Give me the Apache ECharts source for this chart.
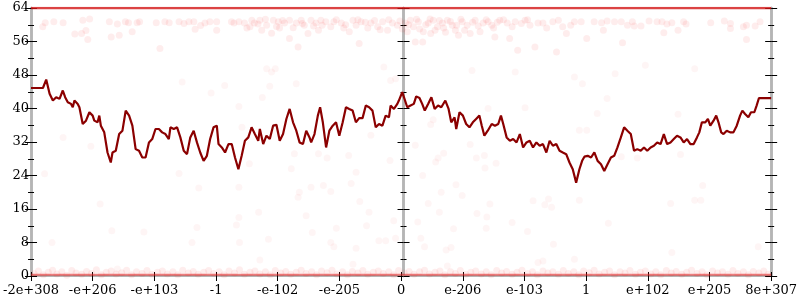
<!DOCTYPE html>
<html><head><meta charset="utf-8">
<script src="https://cdn.jsdelivr.net/npm/echarts@6/dist/echarts.min.js"></script>
<style>html,body{margin:0;padding:0;background:#fff}#c{width:800px;height:300px}</style>
</head><body><div id="c"></div>
<script>
// ---- data ----
const xTickLabels = ['-2e+308','-e+206','-e+103','-1','-e-102','-e-205','0','e-206','e-103','1','e+102','e+205','8e+307'];
const yMin = 0, yMax = 64, yStep = 8;

const lineX = [
 0,0.193,0.246,0.301,0.354,0.408,0.462,0.515,0.553,0.596,0.649,0.677,0.704,0.757,0.784,0.838,0.891,0.946,0.999,1.026,
 1.079,1.107,1.132,1.187,1.240,1.293,1.321,1.374,1.429,1.482,1.535,1.590,1.643,1.696,1.751,1.804,1.857,1.912,1.965,2.018,
 2.073,2.126,2.179,2.234,2.260,2.315,2.368,2.421,2.476,2.529,2.582,2.637,2.690,2.743,2.798,2.851,2.904,2.959,3.012,
 3.040,3.093,3.146,3.201,3.254,3.307,3.362,3.415,3.468,3.523,3.576,3.629,3.684,3.710,3.764,3.817,3.871,3.925,3.979,4.032,
 4.086,4.140,4.193,4.248,4.301,4.354,4.409,4.462,4.515,4.542,4.596,4.650,4.687,4.731,4.784,4.837,4.892,4.945,4.998,5.053,
 5.106,5.159,5.214,5.267,5.320,5.375,5.428,5.481,5.536,5.589,5.642,5.697,5.750,5.803,5.830,5.884,5.939,
 5.964,6.019,6.045,6.100,6.153,6.206,6.245,6.298,6.342,6.384,6.438,6.491,6.544,6.599,6.652,6.717,6.770,6.813,6.867,6.894,
 6.947,7.002,7.055,7.108,7.163,7.216,7.269,7.308,7.350,7.405,7.469,7.522,7.575,7.619,7.656,7.711,7.764,7.817,7.872,7.925,
 7.978,8.033,8.086,8.139,8.194,8.247,8.300,8.355,8.408,8.461,8.516,8.569,8.622,8.677,8.730,8.783,8.838,8.891,8.935,8.972,
 9.025,9.080,9.133,9.186,9.241,9.294,9.347,9.402,9.455,9.508,9.563,9.616,9.669,9.724,9.777,9.830,9.885,9.938,9.991,10.046,
 10.099,10.152,10.207,10.260,10.313,10.368,10.421,10.474,10.529,10.582,10.636,10.690,10.744,10.797,10.835,10.877,10.932,10.974,11.013,11.066,
 11.109,11.146,11.190,11.227,11.280,11.335,11.388,11.442,11.496,11.533,11.577,11.630,11.673,11.727,11.764,11.802,12
];
const lineY = [
 44.9,44.9,46.9,43.5,41.9,42.7,42.3,44.3,42.7,41.5,41.1,40.3,41.9,41.1,40.3,36.3,37.1,39.1,38.3,37.1,
 36.7,38.3,35.9,34.3,29.5,27.1,29.5,29.9,33.9,34.7,39.5,38.3,35.9,30.3,29.9,28.3,28.3,31.9,32.7,35.1,
 35.1,34.3,33.9,32.7,35.5,35.1,35.5,33.1,29.9,29.1,33.1,34.7,31.9,29.5,27.5,28.7,32.7,35.5,35.9,
 31.5,30.7,29.5,31.5,31.5,28.3,25.5,28.7,32.3,33.1,35.5,33.9,32.3,35.1,31.5,33.5,32.7,35.9,36.1,32.3,
 33.9,37.5,39.9,36.7,34.7,31.9,31.5,34.7,33.1,31.9,33.9,38.3,40.3,36.7,30.7,34.7,35.9,36.7,33.5,36.7,
 40.3,39.9,39.5,36.7,37.7,37.7,40.7,40.3,39.5,35.5,36.3,35.9,38.3,37.9,40.7,39.9,41.1,
 41.9,43.9,43.9,40.3,40.7,41.1,42.9,42.5,41.1,39.5,41.1,42.7,39.9,40.7,40.3,41.9,39.9,36.7,37.9,35.1,
 39.1,38.3,36.3,35.5,36.7,37.5,38.3,35.9,33.5,34.7,36.3,35.9,36.3,38.3,36.3,33.1,32.3,32.7,31.9,33.9,
 30.7,31.9,32.3,30.7,31.9,31.1,31.5,29.5,32.3,31.1,31.5,29.9,29.5,29.1,27.1,25.5,22.3,25.5,27.5,28.5,
 28.7,28.3,29.5,27.5,26.7,25.1,26.7,28.3,28.7,30.7,33.1,35.5,34.7,33.9,29.9,30.3,29.9,30.7,29.9,30.7,
 31.1,31.9,31.5,33.9,31.5,31.9,32.7,33.5,33.1,31.9,32.7,31.5,31.5,33.1,34.3,36.7,36.7,37.5,35.9,37.1,
 38.3,36.7,34.3,33.9,34.7,34.3,34.3,35.9,38.3,39.5,38.7,37.9,39.1,39.1,40.7,42.5,42.5
];

// faint scattered points
const topBand = [
 [0.19,59.5],[0.23,60.5],[0.37,60.7],[0.52,60.5],[0.71,57.8],[0.84,61.1],[0.82,57.9],[0.89,58.6],[0.92,56.5],[0.95,61.4],
 [1.27,60.7],[1.30,57.1],[1.40,60.2],[1.43,57.5],[1.53,60.7],[1.58,60.5],[1.64,58.3],[1.72,60.5],[1.76,60.7],[2.03,60.5],
 [2.09,54.3],[2.17,60.7],[2.24,60.5],[2.40,60.7],[2.48,60.3],[2.56,60.7],[2.64,60.7],[2.66,58.9],[2.75,59.8],[2.82,60.4],
 [2.90,60.7],[3.01,60.7],[3.01,58.7],[3.25,60.7],[3.29,60.4],[3.37,60.7],[3.46,60.4],[3.50,59.2],[3.58,61.1],[3.62,60.4],
 [3.71,61.1],[3.74,58.7],[3.82,59.9],[3.90,58.0],[3.93,61.1],[4.01,60.7],[4.03,59.2],[4.11,60.4],[4.19,56.7],[4.19,61.1],
 [4.30,60.4],[4.33,54.7],[4.38,61.1],[4.43,59.9],[4.49,57.9],[4.54,61.1],[4.62,60.4],[4.66,58.7],[4.70,61.1],[4.78,60.7],
 [4.86,59.5],[4.91,60.7],[5.03,60.4],[5.07,59.2],[5.16,58.3],[5.22,61.1],[5.27,59.9],[5.32,55.5],[5.35,60.7],[5.46,59.2],
 [5.51,60.4],[5.62,59.5],[5.70,60.7],[5.78,58.7],[5.86,60.4],[5.94,59.9],[6.07,60.4],[6.15,61.1],[6.20,59.5],[6.23,55.9],
 [6.28,60.7],[6.35,55.9],[6.36,58.3],[6.44,60.4],[6.48,57.9],[6.52,61.1],[6.59,59.5],[6.67,60.4],[6.69,59.2],[6.75,61.1],
 [6.83,59.9],[6.88,58.7],[6.93,57.5],[6.99,60.7],[7.07,59.9],[7.12,57.9],[7.20,61.1],[7.28,58.3],[7.33,60.4],[7.41,60.7],
 [7.47,59.9],[7.52,57.1],[7.60,61.1],[7.72,60.4],[7.76,56.7],[7.85,60.7],[7.89,53.9],[8.01,61.1],[8.09,59.9],[8.17,54.7],
 [8.22,60.4],[8.36,59.2],[8.46,60.7],[8.52,53.5],[8.62,59.5],[8.68,57.9],[8.81,60.7],[8.92,60.7],[9.01,56.7],[9.13,60.7],
 [9.25,60.5],[9.28,58.7],[9.34,60.9],[9.46,60.7],[9.57,60.7],[9.59,55.7],[9.67,59.9],[9.75,60.7],[9.78,59.7],[9.89,59.7],
 [10.02,60.9],[10.15,60.7],[10.23,60.7],[10.26,58.1],[10.31,60.2],[10.39,60.5],[10.49,58.7],[10.58,60.7],[10.62,60.2],[11.02,60.5],
 [11.24,60.9],[11.34,60.3],[11.34,59.1],[11.55,59.5],[11.60,59.9],[11.60,56.5],[11.74,59.7],[11.82,60.7],
 [3.55,59.5],[3.68,60.2],[3.80,61.3],[3.98,59.6],[4.08,61.0],[4.25,59.3],[4.40,60.3],[4.58,59.7],[4.72,59.9],[4.95,61.2],
 [5.10,60.0],[5.30,61.2],[5.42,60.6],[5.57,61.0],[5.66,58.8],[5.80,61.2],[5.98,60.9],[6.02,59.0],[6.10,58.3],[6.12,60.0],
 [6.25,61.3],[6.30,59.0],[6.40,60.0],[6.47,61.4],[6.55,58.7],[6.62,61.0],[6.72,58.2],[6.80,60.8],[6.90,59.9],[6.97,61.3],
 [7.03,58.7],[7.16,60.6],[7.25,59.7],[7.38,61.2],[7.50,59.2],[7.56,60.6],[7.66,61.2],[7.80,59.5],[7.95,60.3],[8.05,61.2],
 [8.30,60.4],[8.55,61.1],[8.75,59.9]
];
const sparsePoints = [
 [2.45,46.3],[0.52,33.1],[0.97,31.0],[3.82,49.5],[3.90,48.7],[3.96,49.5],[4.30,45.9],[3.87,45.3],[3.14,45.5],[2.92,43.7],
 [3.75,42.6],[3.37,40.5],[5.72,49.9],[5.83,46.7],[5.91,47.1],[5.51,33.6],[3.42,35.5],[7.15,49.1],[7.85,48.7],[8.81,47.5],
 [8.94,45.9],[7.41,40.0],[8.01,40.2],[6.52,37.3],[6.48,36.2],[9.18,38.8],[8.89,34.8],[9.01,34.8],[6.23,31.2],[7.12,31.4],
 [9.96,50.3],[9.47,48.3],[10.76,49.5],[9.34,42.4],[10.49,38.6],
 [0.22,24.4],[0.34,8.0],[1.12,17.2],[1.31,10.8],[1.83,10.5],[2.40,24.5],[2.72,21.0],[2.69,11.6],[2.61,8.0],[1.40,1.7],
 [3.54,26.8],[3.37,21.2],[3.69,15.2],[3.37,14.0],[3.33,12.2],[3.38,8.0],[3.85,8.8],[3.71,3.8],[4.22,25.6],[4.27,29.2],
 [4.35,20.0],[4.33,18.8],[4.54,21.2],[4.74,21.6],[4.86,20.2],[4.46,14.4],[4.56,10.4],[4.95,11.4],[4.86,8.0],[4.91,7.0],
 [5.27,24.8],[5.19,22.1],[5.33,17.8],[5.48,15.2],[5.44,12.0],[5.27,6.6],[5.22,2.8],[5.64,8.4],[5.75,8.4],[5.88,13.2],
 [5.91,9.0],[5.82,27.6],[4.66,29.2],[4.80,28.2],[5.15,28.8],[6.35,24.0],[6.56,27.2],[6.60,28.2],[6.69,29.3],[6.89,21.8],
 [6.65,20.0],[6.44,17.3],[6.62,15.2],[6.99,19.2],[6.27,12.9],[6.85,11.3],[6.32,9.0],[6.38,7.0],[6.73,6.2],[6.81,6.8],
 [6.75,2.4],[7.22,28.2],[7.35,28.8],[7.36,25.8],[7.54,26.9],[7.44,17.2],[7.23,14.9],[7.39,14.1],[7.38,11.4],[7.80,12.8],
 [8.05,10.6],[8.14,18.0],[8.33,17.0],[8.39,18.4],[8.44,16.4],[8.47,7.6],[8.22,3.2],[8.30,3.6],[8.81,4.0],[8.89,18.1],
 [9.57,28.5],[9.83,28.2],[10.53,29.0],[10.89,21.6],[10.37,17.3],[10.76,18.1],[10.86,18.1],[9.36,12.6],[10.39,5.6],[11.79,7.0]
];
const bottomBand = [
 [0.05,0.6],[0.12,1.2],[0.2,0.3],[0.28,0.9],[0.35,1.4],[0.42,0.5],[0.5,1.0],[0.58,0.2],[0.66,1.3],[0.73,0.7],
 [0.82,0.4],[0.9,1.1],[0.98,0.6],[1.06,1.5],[1.14,0.3],[1.22,0.9],[1.3,1.2],[1.38,0.5],[1.47,0.8],[1.55,1.4],
 [1.63,0.3],[1.71,1.0],[1.8,0.6],[1.88,1.3],[1.96,0.4],[2.05,0.9],[2.13,1.2],[2.21,0.5],[2.3,1.0],[2.38,0.3],
 [2.46,1.4],[2.55,0.7],[2.63,1.1],[2.71,0.4],[2.8,0.9],[2.88,1.3],[2.96,0.6],[3.05,1.0],[3.13,0.3],[3.21,1.2],
 [3.3,0.7],[3.38,1.5],[3.46,0.4],[3.55,0.9],[3.63,1.2],[3.71,0.5],[3.8,1.0],[3.88,0.3],[3.96,1.3],[4.05,0.7],
 [4.13,1.1],[4.21,0.4],[4.3,0.9],[4.38,1.4],[4.46,0.6],[4.55,1.0],[4.63,0.3],[4.71,1.2],[4.8,0.8],[4.88,1.4],
 [4.96,0.5],[5.05,1.0],[5.13,0.3],[5.21,1.1],[5.3,0.7],[5.38,1.3],[5.46,0.4],[5.55,0.9],[5.63,1.2],[5.71,0.6],
 [5.8,1.0],[5.88,0.3],[5.96,1.3],[6.05,0.7],[6.13,1.1],[6.21,0.4],[6.3,1.0],[6.38,1.4],[6.46,0.5],[6.55,0.9],
 [6.63,1.2],[6.71,0.3],[6.8,1.0],[6.88,0.6],[6.96,1.3],[7.05,0.4],[7.13,0.9],[7.21,1.2],[7.3,0.5],[7.38,1.0],
 [7.46,0.3],[7.55,1.3],[7.63,0.7],[7.71,1.1],[7.8,0.4],[7.88,0.9],[7.96,1.4],[8.05,0.6],[8.13,1.0],[8.21,0.3],
 [8.3,1.2],[8.38,0.7],[8.46,1.0],[8.55,0.4],[8.63,1.3],[8.71,0.6],[8.8,1.0],[8.88,0.3],[8.96,1.2],[9.05,0.8],
 [9.13,1.4],[9.21,0.5],[9.3,0.9],[9.38,1.2],[9.46,0.3],[9.55,1.0],[9.63,0.7],[9.71,1.3],[9.8,0.4],[9.88,0.9],
 [9.96,1.2],[10.05,0.5],[10.13,1.0],[10.21,0.3],[10.3,1.3],[10.38,0.7],[10.46,1.1],[10.55,0.4],[10.63,0.9],[10.71,1.4],
 [10.8,0.6],[10.88,1.0],[10.96,0.3],[11.05,1.2],[11.13,0.7],[11.21,1.0],[11.3,0.4],[11.38,1.3],[11.46,0.6],[11.55,1.0],
 [11.63,0.3],[11.71,1.1],[11.8,0.7],[11.88,1.2],[11.95,0.4]
];
// dense saturated rows of points at the top and bottom
const topRowLevel = 64;
const bottomRowLevel = 0.3;

// ---- chart ----
const gridLeft = 28, gridRight = 27, chartW = 800;
const midOffset = -(chartW - gridLeft - gridRight) / 2;
const FONT = 'DejaVu Serif';

function yAx(position, offset, inside, showLabel) {
  return {
    type: 'value', min: yMin, max: yMax, interval: yStep, position: position, offset: offset,
    axisLine: { show: true, onZero: false, lineStyle: { color: '#b5b5b5', width: 2.5 } },
    axisTick: { show: true, inside: inside, length: 6, lineStyle: { color: '#000', width: 1 } },
    minorTick: { show: true, splitNumber: 2, length: 3, lineStyle: { color: '#000', width: 1 } },
    axisLabel: { show: showLabel, margin: 2, fontFamily: FONT, fontSize: 13, color: '#000' },
    splitLine: { show: false }, minorSplitLine: { show: false }
  };
}
function xAx(inside, showLabel) {
  return {
    type: 'value', min: 0, max: xTickLabels.length - 1, interval: 1, position: 'bottom',
    axisLine: { show: true, onZero: false, lineStyle: { color: '#b5b5b5', width: 2 } },
    axisTick: { show: true, inside: inside, length: inside ? 4 : 5, lineStyle: { color: '#000', width: 1 } },
    axisLabel: { show: showLabel, margin: 8, fontFamily: FONT, fontSize: 13, color: '#000',
      formatter: v => xTickLabels[Math.round(v)] },
    splitLine: { show: false }
  };
}

const faint = { color: 'rgba(240,0,0,0.09)' };
const option = {
  animation: false,
  backgroundColor: '#fff',
  grid: { left: gridLeft, right: gridRight, top: 8, bottom: 24, containLabel: false },
  xAxis: [xAx(false, true), xAx(true, false)],
  yAxis: [
    yAx('left', 0, false, true), yAx('left', 0, true, false),
    yAx('right', 0, false, false), yAx('right', 0, true, false),
    yAx('left', midOffset, false, false), yAx('left', midOffset, true, false)
  ],
  series: [
    { type: 'line', data: [[0, bottomRowLevel], [xTickLabels.length - 1, bottomRowLevel]], symbol: 'none',
      lineStyle: { color: 'rgba(225,40,40,0.6)', width: 2 }, silent: true, z: 1 },
    { type: 'scatter', data: bottomBand, symbolSize: 7, itemStyle: faint, silent: true, z: 1 },
    { type: 'scatter', data: topBand, symbolSize: 7, itemStyle: faint, silent: true, z: 1 },
    { type: 'scatter', data: sparsePoints, symbolSize: 7, itemStyle: { color: 'rgba(240,0,0,0.05)' }, silent: true, z: 1 },
    { type: 'line', data: [[0, topRowLevel], [xTickLabels.length - 1, topRowLevel]], symbol: 'none',
      lineStyle: { color: 'rgba(210,20,20,0.8)', width: 2.5 }, silent: true, z: 1 },
    { type: 'line', data: lineX.map((x, i) => [x, lineY[i]]), symbol: 'none', showSymbol: false,
      lineStyle: { color: '#8b0000', width: 2.2 }, silent: true, z: 3 }
  ]
};
const chart = echarts.init(document.getElementById('c'), null, { renderer: 'canvas' });
chart.setOption(option);
</script>
</body></html>
